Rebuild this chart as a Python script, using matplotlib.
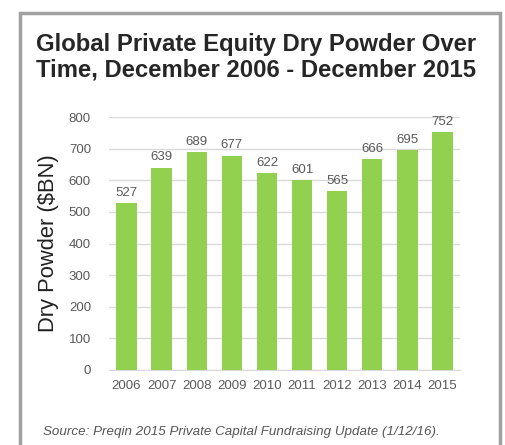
import matplotlib.pyplot as plt
from matplotlib.patches import Rectangle

plt.rcParams['font.family'] = ['Liberation Sans', 'DejaVu Sans']

years = ['2006', '2007', '2008', '2009', '2010', '2011', '2012', '2013', '2014', '2015']
dry_powder = [527, 639, 689, 677, 622, 601, 565, 666, 695, 752]
yticks = [0, 100, 200, 300, 400, 500, 600, 700, 800]

fig = plt.figure(figsize=(5.05, 4.45), dpi=100)
fig.patch.set_facecolor('white')

# grey frame around the chart
fig.patches.append(Rectangle((20 / 505, -0.05), 480 / 505, 1 - 13 / 445 + 0.05,
                             transform=fig.transFigure, fill=False,
                             edgecolor='#a0a0a0', linewidth=2.5))

ax = fig.add_axes([109 / 505, 1 - 370 / 445, 351 / 505, 253 / 445])
x = range(len(years))
ax.bar(x, dry_powder, width=0.58, color='#92D050', zorder=3)
for i, v in enumerate(dry_powder):
    ax.text(i, v + 14, str(v), ha='center', va='bottom', fontsize=9.5, color='#595959')

ax.set_xlim(-0.5, len(years) - 0.5)
ax.set_ylim(0, 800)
ax.set_yticks(yticks)
ax.set_xticks(list(x))
ax.set_xticklabels(years)
ax.grid(axis='y', color='#d9d9d9', linewidth=1, zorder=0)
for s in ['top', 'right', 'left']:
    ax.spines[s].set_visible(False)
ax.spines['bottom'].set_color('#d9d9d9')
ax.tick_params(axis='y', length=0, pad=13, labelsize=9.5, labelcolor='#595959')
ax.tick_params(axis='x', length=0, pad=7, labelsize=9.5, labelcolor='#595959')
ax.set_ylabel('Dry Powder ($BN)', fontsize=15.8, color='#222222', labelpad=7)

fig.text(36 / 505, 1 - 33 / 445, 'Global Private Equity Dry Powder Over\nTime, December 2006 - December 2015',
         fontsize=17.2, fontweight='bold', color='#262626', va='top', ha='left',
         linespacing=1.15)
fig.text(43 / 505, 1 - 432 / 445, 'Source: Preqin 2015 Private Capital Fundraising Update (1/12/16).',
         fontsize=9.6, style='italic', color='#555555', va='center', ha='left')

fig.savefig('out.png', dpi=100)
